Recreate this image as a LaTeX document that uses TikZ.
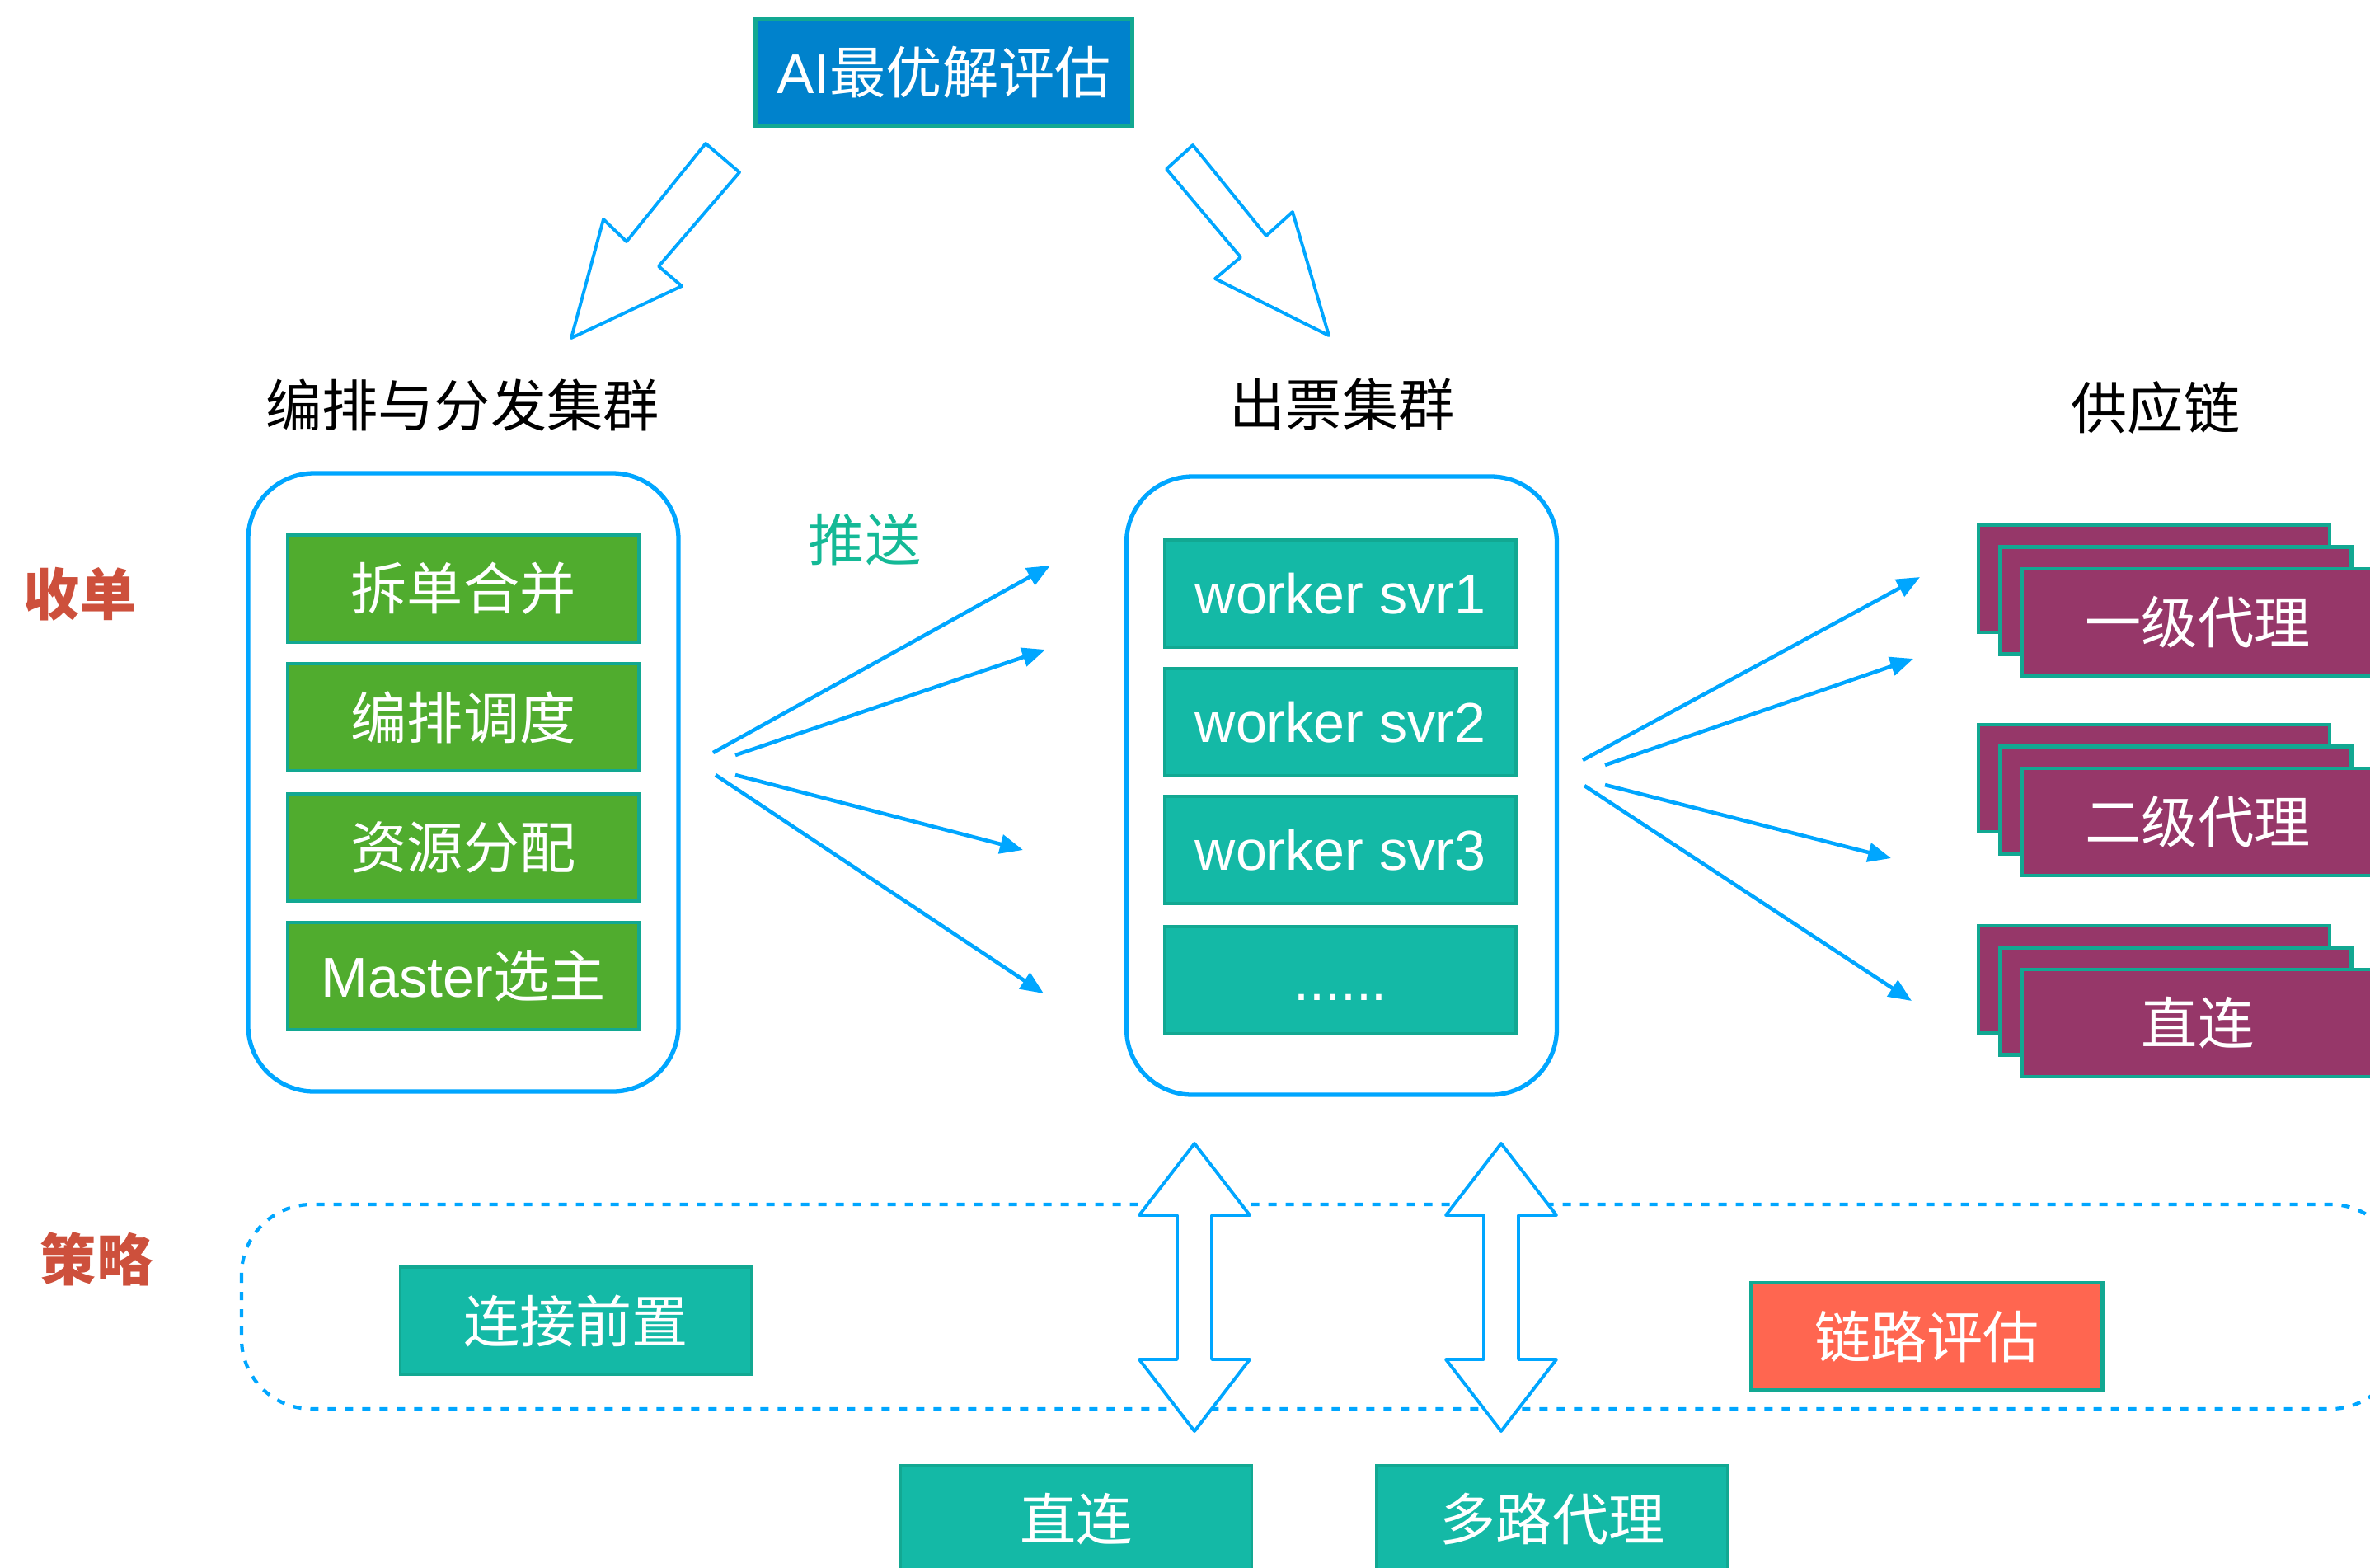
\documentclass[tikz,border=0pt]{standalone}
\usepackage{fontspec}
\setmainfont{Liberation Sans}
\newfontfamily\cjk{Noto Sans CJK SC}
\usetikzlibrary{arrows.meta}

\definecolor{arrowblue}{RGB}{0,166,255}
\definecolor{aiblue}{RGB}{0,130,204}
\definecolor{tealfill}{RGB}{20,185,166}
\definecolor{tealedge}{RGB}{18,168,146}
\definecolor{leafgreen}{RGB}{80,172,46}
\definecolor{plum}{RGB}{150,55,105}
\definecolor{tomato}{RGB}{255,102,80}
\definecolor{brickred}{RGB}{205,80,60}
\definecolor{pushteal}{RGB}{20,185,150}

\begin{document}
\begin{tikzpicture}[
    card/.style={minimum width=\boxwidth cm,minimum height=\boxheight cm,inner sep=0,text=white,font=\boxfontsize},
    greencard/.style={card,fill=leafgreen,draw=tealedge,line width=1.2pt},
    tealcard/.style={card,fill=tealfill,draw=tealedge,line width=1pt},
    plumcard/.style={card,fill=plum,draw=tealedge,line width=1.2pt},
    cluster/.style={draw=arrowblue,line width=1.5pt,rounded corners=8mm,minimum width=5.22cm,minimum height=7.5cm},
    title/.style={font=\boxfontsize,inner sep=0},
    sidelabel/.style={font=\boxfontsize\bfseries,text=brickred,inner sep=0},
    hollow/.style={draw=arrowblue,fill=white,line width=1.1pt,line join=round},
    pusharrow/.style={draw=arrowblue,line width=1.3pt,-{Triangle[length=2.8mm,width=2.3mm]}},
  ]
    \pgfmathsetmacro{\boxwidth}{4.26}
    \pgfmathsetmacro{\boxheight}{1.3}
    \pgfmathsetmacro{\stackshift}{0.265}
    \providecommand{\boxfontsize}{\fontsize{19.4pt}{23pt}\selectfont}
    \useasboundingbox (0,0) rectangle (28.75,-19.01);

    \node[card,fill=aiblue,draw=tealedge,line width=1.6pt,minimum width=4.57cm,minimum height=1.29cm] (ai) at (11.45,-0.88) {AI\cjk{最优解评估}};
    \draw[hollow] (8.56,-1.74) -- (7.60,-2.93) -- (7.32,-2.66) -- (6.93,-4.10) -- (8.27,-3.47) -- (7.99,-3.23) -- (8.97,-2.09) -- cycle;
    \draw[hollow] (14.47,-1.76) -- (15.36,-2.86) -- (15.68,-2.57) -- (16.12,-4.07) -- (14.74,-3.38) -- (15.05,-3.12) -- (14.15,-2.05) -- cycle;

    \node[title] (orchtitle) at (5.61,-4.91) {\cjk 编排与分发集群};
    \node[title] (tickettitle) at (16.28,-4.91) {\cjk 出票集群};
    \node[title] (supplytitle) at (26.15,-4.95) {\cjk 供应链};
    \node[sidelabel] (intake) at (0.97,-7.21) {\cjk 收单};
    \node[sidelabel] (strategy) at (1.17,-15.27) {\cjk 策略};

    % clusters
    \node[cluster] (orch) at (5.62,-9.49) {};
    \node[cluster] (ticket) at (16.275,-9.53) {};
    \node[greencard] (split) at (5.62,-7.14) {\cjk 拆单合并};
    \node[greencard] (sched) at (5.62,-8.70) {\cjk 编排调度};
    \node[greencard] (alloc) at (5.62,-10.28) {\cjk 资源分配};
    \node[greencard] (master) at (5.62,-11.84) {Master\cjk{选主}};
    \node[tealcard] (svr1) at (16.26,-7.20) {worker svr1};
    \node[tealcard] (svr2) at (16.26,-8.76) {worker svr2};
    \node[tealcard] (svr3) at (16.26,-10.31) {worker svr3};
    \node[tealcard] (svrmore) at (16.26,-11.89) {\vphantom{k}......};

    \node[title,text=pushteal] (push) at (10.49,-6.55) {\cjk 推送};
    \foreach \i/\sx/\sy/\ex/\ey in {1/8.65/-9.13/12.74/-6.86, 2/8.92/-9.16/12.68/-7.88, 3/8.92/-9.40/12.41/-10.31, 4/8.68/-9.40/12.66/-12.05,
                                    5/19.20/-9.22/23.29/-7.00, 6/19.47/-9.28/23.21/-7.99, 7/19.47/-9.52/22.94/-10.41, 8/19.22/-9.53/23.19/-12.14} {
      \coordinate (fan\i s) at (\sx,\sy);
      \coordinate (fan\i e) at (\ex,\ey);
      \draw[pusharrow] (fan\i s) -- (fan\i e);
    }

    % supply chain stacks
    \foreach \name/\txt/\y in {agent1/一级代理/-7.55, agent2/二级代理/-9.97, direct/直连/-12.41} {
      \node[plumcard] (\name back) at (26.13,\y+2*\stackshift) {};
      \node[plumcard] (\name mid) at (26.13+\stackshift,\y+\stackshift) {};
      \node[plumcard] (\name) at (26.66,\y) {\cjk\txt};
    }

    % strategy band
    \draw[draw=arrowblue,line width=1.2pt,dash pattern=on 1mm off 1.1mm,rounded corners=8.5mm] (2.93,-14.61) rectangle (29.12,-17.09);
    \node[tealcard] (preconn) at (6.985,-16.02) {\cjk 连接前置};
    \node[card,fill=tomato,draw=tealedge,line width=1.4pt] (linkeval) at (23.375,-16.21) {\cjk 链路评估};
    \foreach \cx in {14.49,18.21} {
      \draw[hollow] (\cx,-13.87) -- (\cx+0.67,-14.74) -- (\cx+0.21,-14.74) -- (\cx+0.21,-16.49) -- (\cx+0.67,-16.49) -- (\cx,-17.36)
        -- (\cx-0.67,-16.49) -- (\cx-0.21,-16.49) -- (\cx-0.21,-14.74) -- (\cx-0.67,-14.74) -- cycle;
    }
    \node[tealcard] (directout) at (13.055,-18.43) {\cjk 直连};
    \node[tealcard] (multiproxy) at (18.83,-18.43) {\cjk 多路代理};
\end{tikzpicture}
\end{document}
